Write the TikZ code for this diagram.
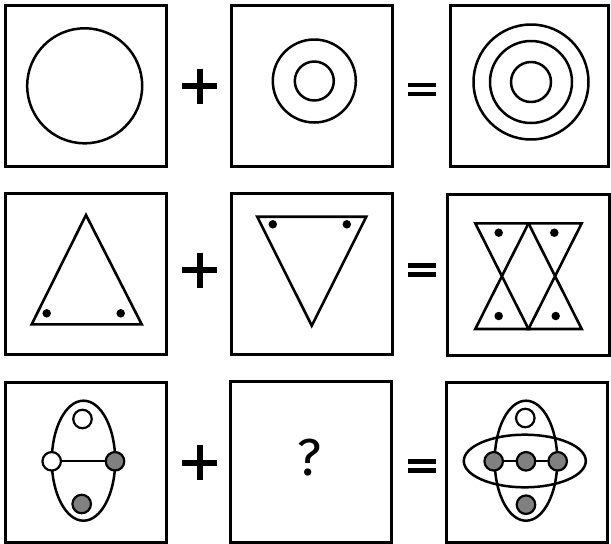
\documentclass[tikz,border=0pt]{standalone}
\usepackage{fontspec}
\newfontfamily\qfont{Fira Sans}
\definecolor{dotgray}{RGB}{128,128,128}
\begin{document}
\begin{tikzpicture}[x=1pt,y=-1pt,line cap=round,line join=round,
    panel/.style={line width=3pt,line join=miter,line cap=rect},
    ring/.style={line width=2.5pt},
    wedge/.style={line width=2.6pt,line join=miter},
    sign/.style={line width=6pt,line cap=butt},
    bar/.style={line width=4.5pt,line cap=butt},
    bead/.style={circle,draw,line width=2.2pt,inner sep=0pt,minimum size=18.5pt},
    fillbead/.style={bead,fill=dotgray},
    pip/.style={circle,fill=black,inner sep=0pt,minimum size=8.5pt}]
  \useasboundingbox (0,0) rectangle (611,544);
  % panels
  \foreach \xa/\ya/\xb/\yb in {5/5/166/166,231/5/392/166,450/5/608.5/166,
      5/193.5/166/354,231/193.5/392/354,447/194.5/609/355.5,
      5/382/166/542.3,230/381.7/391.7/542.3,446/382/607/542.3}
    \draw[panel] (\xa,\ya) rectangle (\xb,\yb);
  % plus and equals signs
  \foreach \yc in {86,270,462.5} {
    \draw[sign] (182,\yc) -- (217,\yc);
    \draw[sign] (199.5,\yc-17.5) -- (199.5,\yc+17.5);
  }
  \foreach \yc in {89.5,270,466} {
    \draw[bar] (408,\yc-4.5) -- (435.5,\yc-4.5);
    \draw[bar] (408,\yc+4.5) -- (435.5,\yc+4.5);
  }
  % row 1: circles
  \draw[ring] (84.7,85.8) circle[radius=57.5];
  \draw[ring] (314.3,81) circle[radius=41.5];
  \draw[ring] (314.3,81) circle[radius=19.5];
  \foreach \r in {57.5,41,20}
    \draw[ring] (531,82) circle[radius=\r];
  % row 2: triangles
  \draw[wedge] (86,215) -- (31.7,324.3) -- (141.7,324.3) -- cycle;
  \node[pip] (pa) at (46.7,313.3) {};
  \node[pip] (pb) at (120.7,313.3) {};
  \draw[wedge] (257.2,216.7) -- (366.3,216.7) -- (311.8,325.7) -- cycle;
  \node[pip] (pc) at (272.8,224.3) {};
  \node[pip] (pd) at (346.8,224.3) {};
  \draw[wedge] (475.3,223.3) -- (528.5,223.3) -- (475.3,329) -- (528.5,329) -- cycle;
  \draw[wedge] (528.5,223.3) -- (581.7,223.3) -- (528.5,329) -- (581.7,329) -- cycle;
  \node[pip] (pe) at (498.7,232.7) {};
  \node[pip] (pf) at (554.3,232.7) {};
  \node[pip] (pg) at (498.7,316) {};
  \node[pip] (ph) at (555.7,316) {};
  % row 3: ellipses and beads
  \draw[ring] (83.5,460.7) ellipse[x radius=31.7,y radius=60];
  \node[bead,fill=white] (top1) at (82.5,419) {};
  \node[bead,fill=white] (left1) at (51.7,461.3) {};
  \node[fillbead] (right1) at (115,461.3) {};
  \node[fillbead] (bottom1) at (81.7,504) {};
  \draw[line width=2.2pt] (left1) -- (right1);
  \node[font=\qfont\fontsize{52}{52}\selectfont] (qmark) at (309.5,457.5) {?};
  \draw[ring] (526,460.7) ellipse[x radius=31.3,y radius=60];
  \draw[ring] (524.8,461) ellipse[x radius=61,y radius=26.3];
  \node[bead,fill=white] (top3) at (525.3,418) {};
  \node[fillbead] (bottom3) at (526,504.7) {};
  \node[fillbead] (left3) at (493.7,461.3) {};
  \node[fillbead] (mid3) at (526,461.3) {};
  \node[fillbead] (right3) at (557.7,461.3) {};
  \draw[line width=2.2pt] (left3) -- (mid3) -- (right3);
\end{tikzpicture}
\end{document}
